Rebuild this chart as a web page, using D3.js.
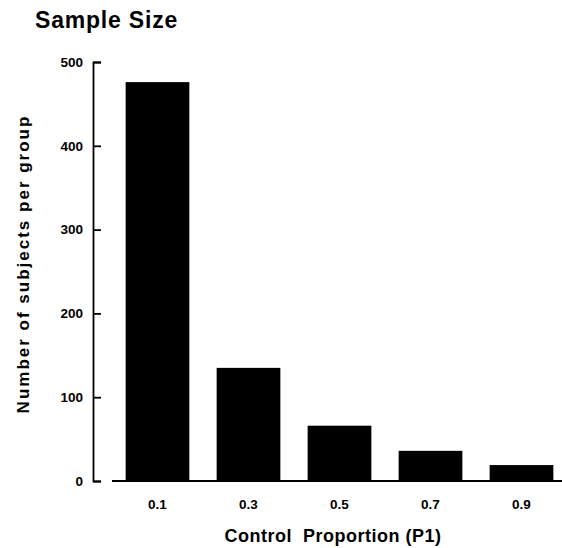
<!DOCTYPE html>
<html>
<head>
<meta charset="utf-8">
<script src="https://cdn.jsdelivr.net/npm/d3@7"></script>
<style>
    body { margin: 0; background: #fff; }
    svg { display: block; font-family: "Liberation Sans", Arial, Helvetica, sans-serif; font-weight: bold; }
</style>
</head>
<body>
<svg></svg>
<script>
// data
let categories = ['0.1', '0.3', '0.5', '0.7', '0.9'] // control proportion P1
let subjects = [476, 135, 66, 36, 19] // number of subjects per group
let yTicks = [0, 100, 200, 300, 400, 500]

let width = 562
let height = 548

let svg = d3.select('svg')
    .attr('width', width)
    .attr('height', height)

let xScale // band positions of the bars
let yScale // value -> pixel height

let generateScales = () => {
    xScale = d3.scaleBand()
        .domain(categories)
        .range([112, 567])
        .paddingInner(0.3)
        .paddingOuter(0.15)

    yScale = d3.scaleLinear()
        .domain([0, 500])
        .range([481, 62])
}

let drawBars = () => {
    svg.selectAll('rect')
        .data(categories)
        .enter()
        .append('rect')
        .attr('x', (item) => xScale(item))
        .attr('width', xScale.bandwidth())
        .attr('y', (item, i) => yScale(subjects[i]))
        .attr('height', (item, i) => yScale(0) - yScale(subjects[i]))
        .attr('fill', '#000')
}

let generateAxes = () => {
    // y axis: ticks point inward, hooks at both ends
    let yAxis = d3.axisLeft(yScale)
        .tickValues(yTicks)
        .tickSize(-8)
        .tickPadding(10)
    let gy = svg.append('g')
        .attr('transform', 'translate(93, 0)')
        .call(yAxis)
    gy.selectAll('path, line').attr('stroke', '#000').attr('stroke-width', 1.8)
    gy.selectAll('text')
        .attr('font-size', 13.5)
        .attr('font-weight', 'bold')
        .attr('fill', '#000')

    // x axis: a plain baseline with labels under the bars
    let xAxis = d3.axisBottom(xScale)
        .tickSize(0)
        .tickPadding(18)
    let gx = svg.append('g')
        .attr('transform', 'translate(0, ' + yScale(0) + ')')
        .call(xAxis)
    gx.select('.domain')
        .attr('d', 'M112,0H562')
        .attr('stroke', '#000')
        .attr('stroke-width', 2)
    gx.selectAll('text')
        .attr('font-size', 13.5)
        .attr('font-weight', 'bold')
        .attr('fill', '#000')

    svg.append('text')
        .attr('x', 35)
        .attr('y', 28)
        .attr('font-size', 23)
        .style('letter-spacing', '0.8px')
        .text('Sample Size')

    svg.append('text')
        .attr('transform', 'translate(29, 264) rotate(-90)')
        .attr('text-anchor', 'middle')
        .attr('font-size', 17)
        .style('letter-spacing', '2px')
        .text('Number of subjects per group')

    svg.append('text')
        .attr('x', 333)
        .attr('y', 542)
        .attr('text-anchor', 'middle')
        .attr('font-size', 18)
        .style('letter-spacing', '0.5px')
        .style('white-space', 'pre')
        .text('Control  Proportion (P1)')
}

generateScales()
drawBars()
generateAxes()
</script>
</body>
</html>
